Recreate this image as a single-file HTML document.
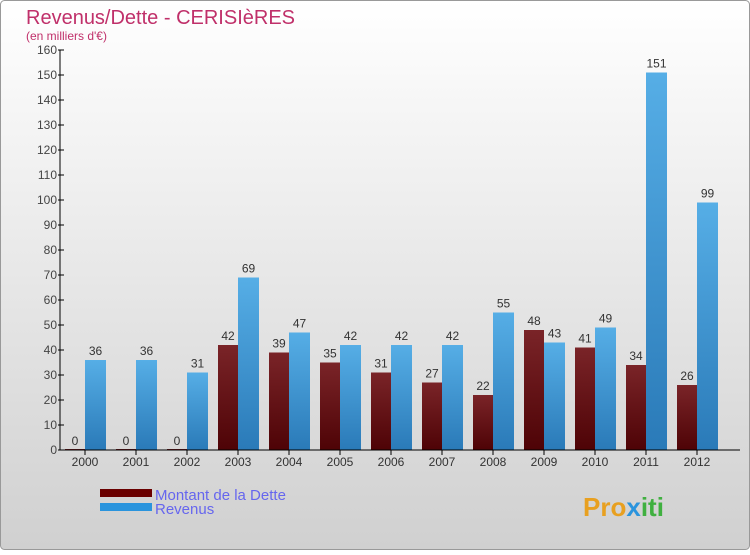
<!DOCTYPE html>
<html><head><meta charset="utf-8"><style>
body{margin:0;width:750px;height:550px;overflow:hidden;font-family:"Liberation Sans",sans-serif}
</style></head><body>
<svg id="c" width="750" height="550" xmlns="http://www.w3.org/2000/svg">
<defs>
<linearGradient id="bg" x1="0" y1="0" x2="0" y2="1"><stop offset="0" stop-color="#ffffff"/><stop offset="1" stop-color="#d0d0d0"/></linearGradient>
<linearGradient id="gd" x1="0" y1="0" x2="0" y2="1"><stop offset="0" stop-color="#7a2428"/><stop offset="1" stop-color="#4e0306"/></linearGradient>
<linearGradient id="gr" x1="0" y1="0" x2="0" y2="1"><stop offset="0" stop-color="#56aee6"/><stop offset="1" stop-color="#2a7ab8"/></linearGradient>
</defs>
<rect x="0.5" y="0.5" width="749" height="549" rx="4" fill="url(#bg)" stroke="#999"/>
<text x="26" y="24" font-size="20" fill="#c0306a">Revenus/Dette - CERISIèRES</text>
<text x="26" y="40" font-size="12" fill="#c0306a">(en milliers d'€)</text>
<g id="bars"></g><g id="axes"></g>
<rect x="100" y="489" width="52" height="8" fill="#6a0000"/>
<rect x="100" y="503" width="52" height="8" fill="#2a94dd"/>
<text x="155" y="500" font-size="15" fill="#6666ee">Montant de la Dette</text>
<text x="155" y="514" font-size="15" fill="#6666ee">Revenus</text>
<text x="583" y="516" font-size="26" font-weight="bold" fill="#e8a020">Pro<tspan fill="#2a94dd">x</tspan><tspan fill="#40b040">iti</tspan></text>
</svg>
<script>
const categories=["2000","2001","2002","2003","2004","2005","2006","2007","2008","2009","2010","2011","2012"];
const dette=[0,0,0,42,39,35,31,27,22,48,41,34,26];
const revenus=[36,36,31,69,47,42,42,42,55,43,49,151,99];
const yTicks=[0,10,20,30,40,50,60,70,80,90,100,110,120,130,140,150,160];
const NS="http://www.w3.org/2000/svg";
const x0=60,y0=450,yMax=160,plotH=400;
const y=v=>y0-v/yMax*plotH;
const cx=i=>85+i*51;
function mk(t,a,p){const e=document.createElementNS(NS,t);for(const k in a)e.setAttribute(k,a[k]);p.appendChild(e);return e;}
const bars=document.getElementById('bars'),axes=document.getElementById('axes');
yTicks.forEach(v=>{
 const t=mk('line',{x1:x0-2,x2:x0+4,y1:y(v),y2:y(v),stroke:'#000'},axes);
 
 
 const tx=mk('text',{x:x0-3,y:y(v)+4,'font-size':12,fill:'#444','text-anchor':'end'},axes);
 tx.textContent=v;
 
 
});
categories.forEach((c,i)=>{
 const X=cx(i);
 const hd=Math.max(y0-y(dette[i]),1);
 const b1=mk('rect',{x:X-20,y:y0-hd,width:20,height:hd,fill:'url(#gd)'},bars);
 
 
 const b2=mk('rect',{x:X,y:y(revenus[i]),width:21,height:y0-y(revenus[i]),fill:'url(#gr)'},bars);
 
 
 const l1=mk('text',{x:X-10,y:y(dette[i])-5,'font-size':12,fill:'#333','text-anchor':'middle'},bars);
 l1.textContent=dette[i];
 
 
 const l2=mk('text',{x:X+10.5,y:y(revenus[i])-5,'font-size':12,fill:'#333','text-anchor':'middle'},bars);
 l2.textContent=revenus[i];
 
 
 const tk=mk('line',{x1:X,x2:X,y1:y0,y2:y0+5,stroke:'#000'},axes);
 
 
 const xl=mk('text',{x:X,y:y0+16,'font-size':12,fill:'#333','text-anchor':'middle'},axes);
 xl.textContent=c;
 
 
});
const ya=mk('line',{x1:x0,x2:x0,y1:50,y2:y0,stroke:'#000'},axes);


const xa=mk('line',{x1:x0,x2:740,y1:y0,y2:y0,stroke:'#000'},axes);


</script>
</body></html>
